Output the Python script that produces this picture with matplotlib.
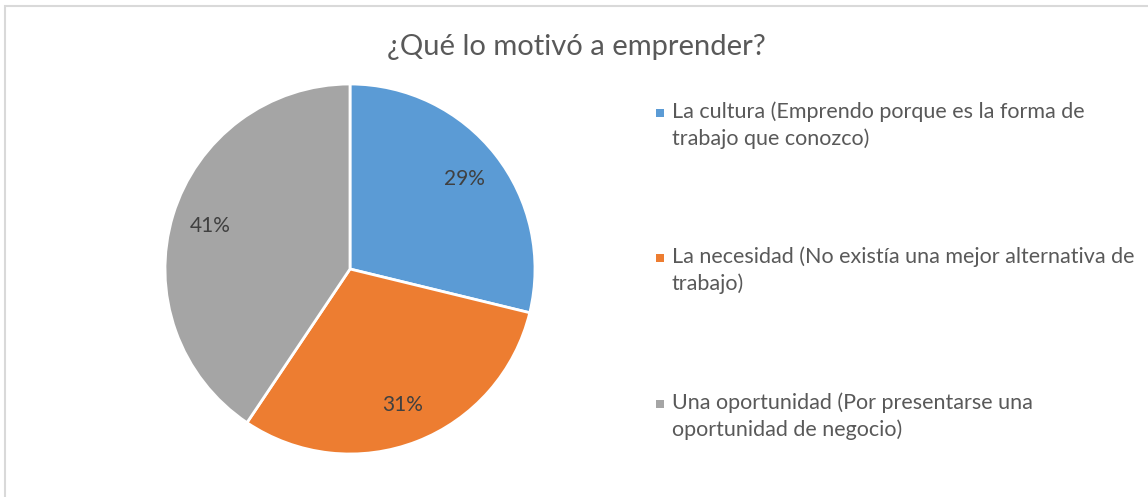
import matplotlib
matplotlib.use("Agg")
import matplotlib.pyplot as plt
from matplotlib.patches import Rectangle
import numpy as np

plt.rcParams['font.family'] = ['Lato', 'DejaVu Sans']

title = "¿Qué lo motivó a emprender?"
categories = [
    "La cultura (Emprendo porque es la forma de\ntrabajo que conozco)",
    "La necesidad (No existía una mejor alternativa de\ntrabajo)",
    "Una oportunidad (Por presentarse una\noportunidad de negocio)",
]
values = [28.8, 30.6, 40.6]
pct_labels = ["29%", "31%", "41%"]
colors = ["#5B9BD5", "#ED7D31", "#A5A5A5"]

W, H = 1148, 497
fig = plt.figure(figsize=(W / 100, H / 100), dpi=100)

# border (only left and top visible in the reference)
fig.patches.append(Rectangle((5 / W, -0.1), 1.2, 1.1 - 6 / H, transform=fig.transFigure,
                             fill=False, edgecolor="#D9D9D9", linewidth=1.5))

cx, cy, r = 350, 269, 185
ax = fig.add_axes([(cx - r) / W, (H - cy - r) / H, 2 * r / W, 2 * r / H])
wedges, _ = ax.pie(values, colors=colors, startangle=90, counterclock=False,
                   wedgeprops=dict(edgecolor="white", linewidth=2))
tot = sum(values)
start = 90.0
for v, lab in zip(values, pct_labels):
    mid = start - v / tot * 360 / 2
    start -= v / tot * 360
    ax.text(0.79 * np.cos(np.radians(mid)), 0.79 * np.sin(np.radians(mid)), lab,
            ha="center", va="center", fontsize=15, color="#404040")
ax.set_xlim(-1, 1)
ax.set_ylim(-1, 1)
ax.set_aspect("equal")

fig.text(576 / W, 1 - 47 / H, title, ha="center", va="center", fontsize=21, color="#595959")

ys = [113, 258, 404]
for y, lab, c in zip(ys, categories, colors):
    fig.patches.append(Rectangle((656 / W, 1 - (y + 4) / H), 8 / W, 8 / H,
                                 transform=fig.transFigure, facecolor=c, edgecolor="none"))
    fig.text(672 / W, 1 - (y - 12) / H, lab, ha="left", va="top", fontsize=15.5,
             color="#595959", linespacing=1.42)

fig.savefig("out.png", dpi=100)
